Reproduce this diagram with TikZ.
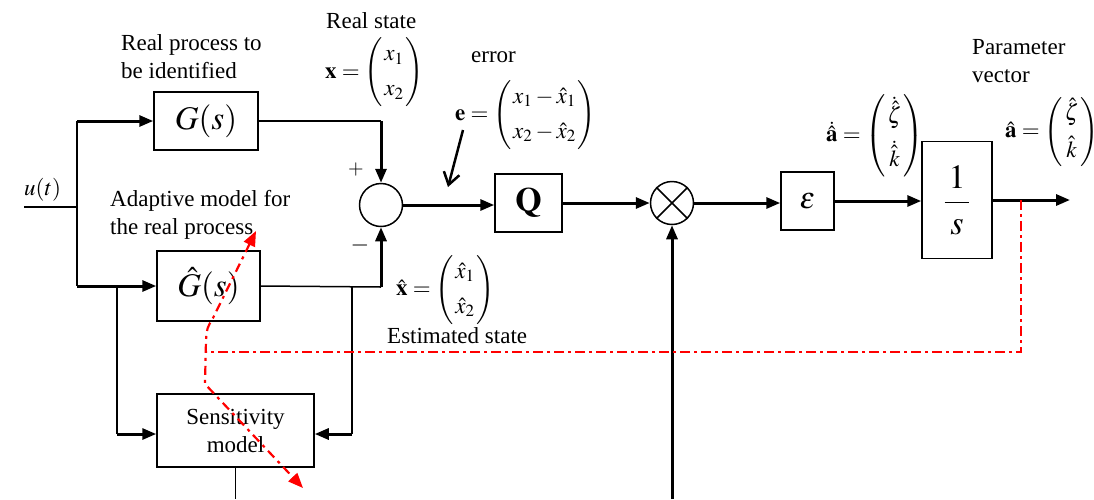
\documentclass[tikz,border=0pt]{standalone}
\usepackage{mathptmx}
\usepackage{fontspec}
\setmainfont{Liberation Serif}
\usetikzlibrary{arrows.meta}
\setlength{\arraycolsep}{1.5pt}
\begin{document}
\begin{tikzpicture}[x=1pt,y=-1pt,
  blk/.style={draw, line width=1.5pt, inner sep=0pt},
  sumc/.style={circle, draw, line width=1.5pt, minimum size=43pt, inner sep=0pt},
  thk/.style={line width=3pt},
  thn/.style={line width=1.5pt},
  arr/.style={-{Triangle[length=14pt,width=11pt]}},
  lbl/.style={font=\fontsize{23}{28}\selectfont, inner sep=0pt},
  big/.style={font=\fontsize{33}{36}\selectfont},
  redd/.style={red, line width=2.2pt, dash pattern=on 10pt off 4pt on 3pt off 4pt},
  redc/.style={red, line width=2.2pt, dash pattern=on 9pt off 5pt on 3pt off 5pt}
]
\useasboundingbox (0,0) rectangle (1094,499);

% blocks
\node[blk, big, minimum width=104pt, minimum height=58pt] (G) at (206,121) {$G(s)$};
\node[blk, big, minimum width=103pt, minimum height=70pt] (Gh) at (208.5,286) {$\hat{G}(s)$};
\node[blk, lbl, align=center, minimum width=157pt, minimum height=73pt] (S) at (235.5,430.5) {Sensitivity\\model};
\node[sumc] (sum) at (381,205) {};
\node[blk, font=\fontsize{34}{38}\selectfont, minimum width=67pt, minimum height=58pt] (Q) at (528.5,203) {$\mathbf{Q}$};
\node[sumc] (mult) at (672,203) {};
\draw[thn] (mult.north west) -- (mult.south east) (mult.north east) -- (mult.south west);
\node[blk, font=\fontsize{30}{34}\selectfont, minimum width=53pt, minimum height=58pt] (eps) at (807.5,201) {$\varepsilon$};
\node[blk, font=\fontsize{34}{36}\selectfont, minimum width=70pt, minimum height=117pt] (inv) at (957,200) {$\displaystyle\frac{\,1\,}{s}$};

% junction coordinates
\coordinate (u0) at (24,207);
\coordinate (ju) at (77,207);
\coordinate (jt) at (77,121);
\coordinate (jb) at (77,286);
\coordinate (sb) at (117,286);
\coordinate (sb2) at (117,434);
\coordinate (gc) at (381,121);
\coordinate (hc) at (381,287);
\coordinate (hb) at (352,287);
\coordinate (hb2) at (352,434);
\coordinate (out) at (1070,200);
\coordinate (mb) at (672,499);
\coordinate (sbot) at (235.5,499);
\coordinate (rp) at (1021,200);
\coordinate (rc) at (1021,352);
\coordinate (rl) at (207,352);

% connectors
\draw[thn] (u0) -- (ju);
\draw[thn] (jt) -- (jb);
\draw[thk, arr] (jt) -- (G.west);
\draw[thk, arr] (jb) -- (Gh.west);
\draw[thn] (sb) -- (sb2);
\draw[thk, arr] (sb2) -- (sb2 -| S.west);
\draw[thn] (G.east) -- (gc);
\draw[thk, arr] (gc) -- (sum.north);
\draw[thn] (Gh.east) -- (hc);
\draw[thk, arr] (hc) -- (sum.south);
\draw[thn] (hb) -- (hb2);
\draw[thk, arr] (hb2) -- (hb2 -| S.east);
\draw[thn] (S.south) -- (sbot);
\draw[thk, arr] (sum.east) -- (sum.east -| Q.west);
\draw[thk, arr] (Q.east) -- (Q.east -| mult.west);
\draw[thk, arr] (mult.east) -- (mult.east -| eps.west);
\draw[thk, arr] (eps.east) -- (eps.east -| inv.west);
\draw[thk, arr] (inv.east) -- (out);
\draw[thk, arr] (mb) -- (mult.south);

% red feedback
\draw[redd] (rp) -- (rc) -- (rl);
\draw[redc, {Triangle[length=15pt,width=12pt]}-{Triangle[length=15pt,width=12pt]}]
  (256,231) -- (213,318) .. controls (207,328) .. (206,340) -- (205,384) -- (303,488);

% signs
\node[font=\fontsize{20}{24}\selectfont, inner sep=0pt] (plus) at (356,169) {$+$};
\node[font=\fontsize{24}{28}\selectfont, inner sep=0pt] (minus) at (360,245) {$-$};

% labels
\node[lbl, anchor=base west] (ut) at (24,195) {$u(t)$};
\node[lbl, align=left, anchor=north west] (lreal) at (121,34) {Real process to\\be identified};
\node[lbl, anchor=base west] (lrs) at (326,28) {Real state};
\node[lbl, anchor=west] (mx) at (325,72.5) {$\mathbf{x}=\left(\begin{array}{c}x_1\\[7pt]x_2\end{array}\right)$};
\node[lbl, anchor=base west] (lerr) at (471,62) {error};
\node[lbl, anchor=west] (me) at (455,115) {$\mathbf{e}=\left(\begin{array}{c}x_1-\hat{x}_1\\[7pt]x_2-\hat{x}_2\end{array}\right)$};
\coordinate (ep1) at (463,130);
\coordinate (ep2) at (448,187);
\draw[line width=2.5pt, -{Straight Barb[length=12pt,width=16pt]}] (ep1) -- (ep2);
\node[lbl, align=left, anchor=north west] (lad) at (110,190) {Adaptive model for\\the real process};
\node[lbl, anchor=west] (mxh) at (396,290) {$\hat{\mathbf{x}}=\left(\begin{array}{c}\hat{x}_1\\[7pt]\hat{x}_2\end{array}\right)$};
\node[lbl, anchor=base west] (lest) at (387,343) {Estimated state};
\node[lbl, anchor=west] (mad) at (826,136) {$\dot{\hat{\mathbf{a}}}=\left(\begin{array}{c}\dot{\hat{\zeta}}\\[9pt]\dot{\hat{k}}\end{array}\right)$};
\node[lbl, align=left, anchor=north west] (lpar) at (972,39) {Parameter\\vector};
\node[lbl, anchor=west] (ma) at (1005,132) {$\hat{\mathbf{a}}=\left(\begin{array}{c}\hat{\zeta}\\[7pt]\hat{k}\end{array}\right)$};
\end{tikzpicture}
\end{document}
